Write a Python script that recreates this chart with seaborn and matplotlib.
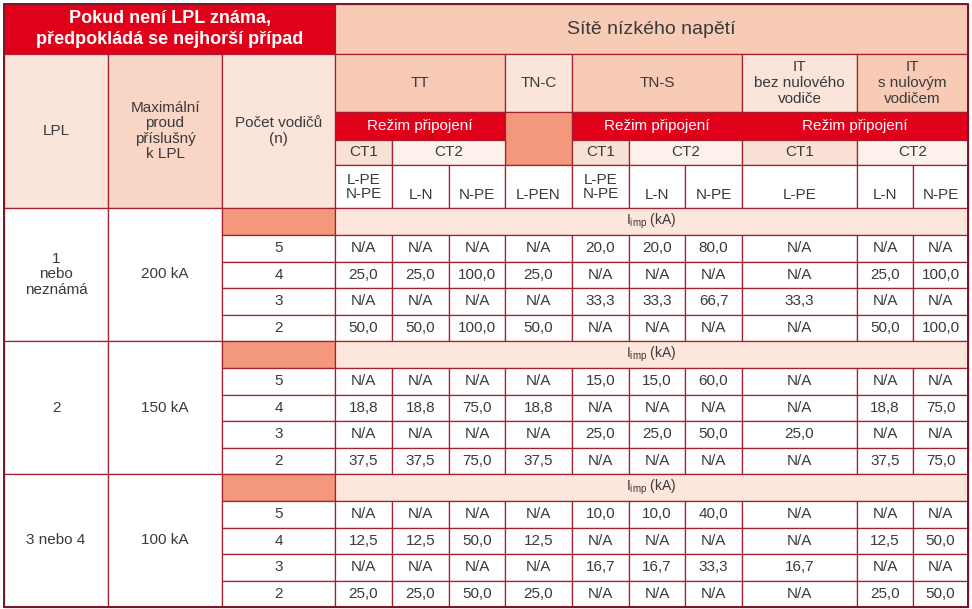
import numpy as np
import seaborn as sns
import matplotlib.pyplot as plt
from matplotlib.patches import Rectangle

# ---- table content ----
title_left = "Pokud není LPL známa,\npředpokládá se nejhorší případ"
title_right = "Sítě nízkého napětí"
head_left = ["LPL", "Maximální\nproud\npříslušný\nk LPL", "Počet vodičů\n(n)"]
networks = ["TT", "TN-C", "TN-S", "IT\nbez nulového\nvodiče", "IT\ns nulovým\nvodičem"]
mode_label = "Režim připojení"
ct_labels = ["CT1", "CT2", "CT1", "CT2", "CT1", "CT2"]
conn_labels = ["L-PE\nN-PE", "L-N", "N-PE", "L-PEN", "L-PE\nN-PE", "L-N", "N-PE", "L-PE", "L-N", "N-PE"]
unit_label = "$I_{imp}$ (kA)"

lpl_labels = ["1\nnebo\nneznámá", "2", "3 nebo 4"]
max_current = ["200 kA", "150 kA", "100 kA"]
n_wires = [5, 4, 3, 2]
na = np.nan

values_lpl1 = [
    [na, na, na, na, 20.0, 20.0, 80.0, na, na, na],
    [25.0, 25.0, 100.0, 25.0, na, na, na, na, 25.0, 100.0],
    [na, na, na, na, 33.3, 33.3, 66.7, 33.3, na, na],
    [50.0, 50.0, 100.0, 50.0, na, na, na, na, 50.0, 100.0],
]
values_lpl2 = [
    [na, na, na, na, 15.0, 15.0, 60.0, na, na, na],
    [18.8, 18.8, 75.0, 18.8, na, na, na, na, 18.8, 75.0],
    [na, na, na, na, 25.0, 25.0, 50.0, 25.0, na, na],
    [37.5, 37.5, 75.0, 37.5, na, na, na, na, 37.5, 75.0],
]
values_lpl3 = [
    [na, na, na, na, 10.0, 10.0, 40.0, na, na, na],
    [12.5, 12.5, 50.0, 12.5, na, na, na, na, 12.5, 50.0],
    [na, na, na, na, 16.7, 16.7, 33.3, 16.7, na, na],
    [25.0, 25.0, 50.0, 25.0, na, na, na, na, 25.0, 50.0],
]
groups = [values_lpl1, values_lpl2, values_lpl3]

# ---- layout (grid edges) ----
col_w = [104, 114, 113, 57, 57, 56, 67, 57, 56, 57, 115, 56, 55]
row_h = [50, 58, 28, 25, 43] + [27, 26.5, 26.5, 26.5, 26.5] * 3
X = np.concatenate([[4], 4 + np.cumsum(col_w)])
Y = np.concatenate([[4], 4 + np.cumsum(row_h)])

RED = "#e1001a"
PEACH = "#f8cbb7"
PEACH_L = "#fbe4da"
CT1_C = "#fae1d6"
CT2_C = "#fdf1ec"
SALMON = "#f4987b"
ROW_C = "#fde6dc"
LINE = "#a2202f"
TXT = "#3a3a3a"
FS = 11

sns.set_theme(style="white")
plt.rcParams["font.family"] = ["Liberation Sans", "DejaVu Sans"]
plt.rcParams["mathtext.default"] = "regular"

fig = plt.figure(figsize=(9.72, 6.09), dpi=100)
ax = fig.add_axes([0, 0, 1, 1])
ax.set_xlim(0, 972)
ax.set_ylim(609, 0)
ax.axis("off")


def cell(c0, c1, r0, r1, fc, text=None, ec=LINE, ty=None, **kw):
    ax.add_patch(Rectangle((X[c0], Y[r0]), X[c1] - X[c0], Y[r1] - Y[r0],
                           facecolor=fc, edgecolor=ec, linewidth=0.9))
    if text is not None:
        opts = dict(ha="center", va="center", color=TXT, fontsize=FS,
                    linespacing=1.15)
        opts.update(kw)
        y = (Y[r0] + Y[r1]) / 2 if ty is None else ty
        ax.text((X[c0] + X[c1]) / 2, y, text, **opts)


def fmt(v):
    return "N/A" if np.isnan(v) else f"{v:.1f}".replace(".", ",")


# header rows
cell(0, 3, 0, 1, RED, title_left, color="white", fontsize=13,
     fontweight="bold", linespacing=1.25)
cell(3, 13, 0, 1, PEACH, title_right, fontsize=14)
cell(0, 1, 1, 5, PEACH_L, head_left[0])
cell(1, 2, 1, 5, "#f9d5c5", head_left[1])
cell(2, 3, 1, 5, PEACH_L, head_left[2])

net_span = [(3, 6), (6, 7), (7, 10), (10, 11), (11, 13)]
net_fc = [PEACH, PEACH_L, PEACH, PEACH_L, PEACH]
for (c0, c1), fc, lab in zip(net_span, net_fc, networks):
    cell(c0, c1, 1, 2, fc, lab)

cell(3, 6, 2, 3, RED, mode_label, color="white")
cell(6, 7, 2, 4, SALMON)
cell(7, 13, 2, 3, RED)
for c0, c1 in [(7, 10), (10, 13)]:
    ax.text((X[c0] + X[c1]) / 2, (Y[2] + Y[3]) / 2, mode_label, ha="center",
            va="center", color="white", fontsize=FS)

ct_span = [(3, 4), (4, 6), (7, 8), (8, 10), (10, 11), (11, 13)]
for (c0, c1), lab in zip(ct_span, ct_labels):
    cell(c0, c1, 3, 4, CT1_C if lab == "CT1" else CT2_C, lab)

for j, lab in enumerate(conn_labels):
    ty = None if "\n" in lab else Y[5] - 13
    cell(3 + j, 4 + j, 4, 5, "white", lab, ty=ty, linespacing=1.0)

# body
for g, vals in enumerate(groups):
    r0 = 5 + 5 * g
    cell(0, 1, r0, r0 + 5, "white", lpl_labels[g])
    cell(1, 2, r0, r0 + 5, "white", max_current[g])
    cell(2, 3, r0, r0 + 1, SALMON)
    cell(3, 13, r0, r0 + 1, ROW_C, unit_label, fontsize=10)
    for i, n in enumerate(n_wires):
        r = r0 + 1 + i
        cell(2, 3, r, r + 1, "white", str(n))
        for j, v in enumerate(vals[i]):
            cell(3 + j, 4 + j, r, r + 1, "white", fmt(v))

ax.add_patch(Rectangle((X[0], Y[0]), X[-1] - X[0], Y[-1] - Y[0],
                       facecolor="none", edgecolor="#7a1424", linewidth=1.4))

fig.savefig("out.png", dpi=100)
